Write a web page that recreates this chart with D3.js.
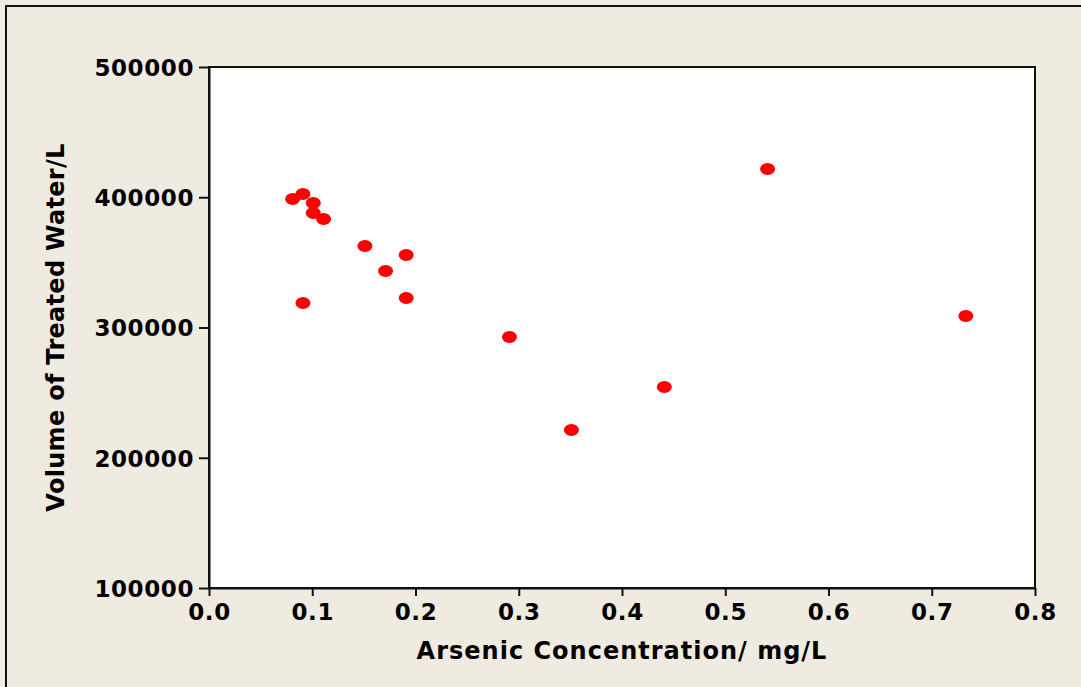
<!DOCTYPE html>
<html>
<head>
<meta charset="utf-8">
<script src="https://cdn.jsdelivr.net/npm/d3@7"></script>
<style>
  body { margin: 0; background: #efebe1; }
  svg text { font-family: "DejaVu Sans", Verdana, sans-serif; font-weight: bold; fill: #000; }
</style>
</head>
<body>
<div id="chart"></div>
<script>
const arsenic = [0.081, 0.091, 0.101, 0.101, 0.111, 0.151, 0.171, 0.191, 0.191, 0.091, 0.291, 0.351, 0.441, 0.541, 0.733];
const volume = [398700, 402500, 395600, 387900, 383300, 362600, 343400, 355700, 322600, 318800, 292700, 221300, 254300, 421700, 308800];
const xTicks = [0, 0.1, 0.2, 0.3, 0.4, 0.5, 0.6, 0.7, 0.8];
const yTicks = [100000, 200000, 300000, 400000, 500000];

const width = 1081, height = 687;
const margin = { top: 67, right: 46, bottom: 99, left: 209 };
const innerwidth = width - margin.left - margin.right;
const innerheight = height - margin.top - margin.bottom;

const data = arsenic.map((a, i) => ({ x: a, y: volume[i] }));

const svg = d3.select("#chart")
    .append("svg")
    .attr("width", width)
    .attr("height", height);

svg.append("rect")
    .attr("width", width)
    .attr("height", height)
    .attr("fill", "#efebe1");

// frame line on top and left edges
svg.append("path")
    .attr("d", `M6,${height} V6 H${width}`)
    .attr("fill", "none")
    .attr("stroke", "#111")
    .attr("stroke-width", 2);

const xScale = d3.scaleLinear().domain([0, 0.8]).range([0, innerwidth]);
const yScale = d3.scaleLinear().domain([100000, 500000]).range([innerheight, 0]);

const innerChart = svg.append("g")
    .attr("transform", `translate(${margin.left},${margin.top})`);

innerChart.append("rect")
    .attr("width", innerwidth)
    .attr("height", innerheight)
    .attr("fill", "#fff")
    .attr("stroke", "#111")
    .attr("stroke-width", 2);

const bottomAxis = d3.axisBottom(xScale)
    .tickValues(xTicks)
    .tickFormat(d3.format(".1f"))
    .tickSize(8)
    .tickPadding(8)
    .tickSizeOuter(0);

const xAxisG = innerChart.append("g")
    .attr("transform", `translate(0,${innerheight})`)
    .call(bottomAxis);

const leftAxis = d3.axisLeft(yScale)
    .tickValues(yTicks)
    .tickFormat(d3.format("d"))
    .tickSize(10)
    .tickPadding(5)
    .tickSizeOuter(0);

const yAxisG = innerChart.append("g").call(leftAxis);

[xAxisG, yAxisG].forEach(g => {
    g.select(".domain").attr("stroke", "#111").attr("stroke-width", 2);
    g.selectAll(".tick line").attr("stroke", "#111").attr("stroke-width", 2);
    g.selectAll(".tick text")
        .attr("font-size", 23)
        .attr("font-family", "DejaVu Sans, sans-serif")
        .attr("font-weight", "bold")
        .attr("letter-spacing", 0.6)
        .attr("fill", "#000");
});
yAxisG.selectAll(".tick text").attr("dy", "0.36em");

innerChart.selectAll("ellipse")
    .data(data)
    .join("ellipse")
    .attr("cx", d => xScale(d.x))
    .attr("cy", d => yScale(d.y))
    .attr("rx", 7.5)
    .attr("ry", 6)
    .attr("fill", "#ff0000");

svg.append("text")
    .text("Arsenic Concentration/ mg/L")
    .attr("x", margin.left + innerwidth / 2)
    .attr("y", 659)
    .attr("text-anchor", "middle")
    .attr("letter-spacing", 1)
    .attr("font-size", 24);

svg.append("text")
    .text("Volume of Treated Water/L")
    .attr("transform", `translate(64,${margin.top + innerheight / 2}) rotate(-90)`)
    .attr("text-anchor", "middle")
    .attr("letter-spacing", 0.3)
    .attr("font-size", 24);
</script>
</body>
</html>
